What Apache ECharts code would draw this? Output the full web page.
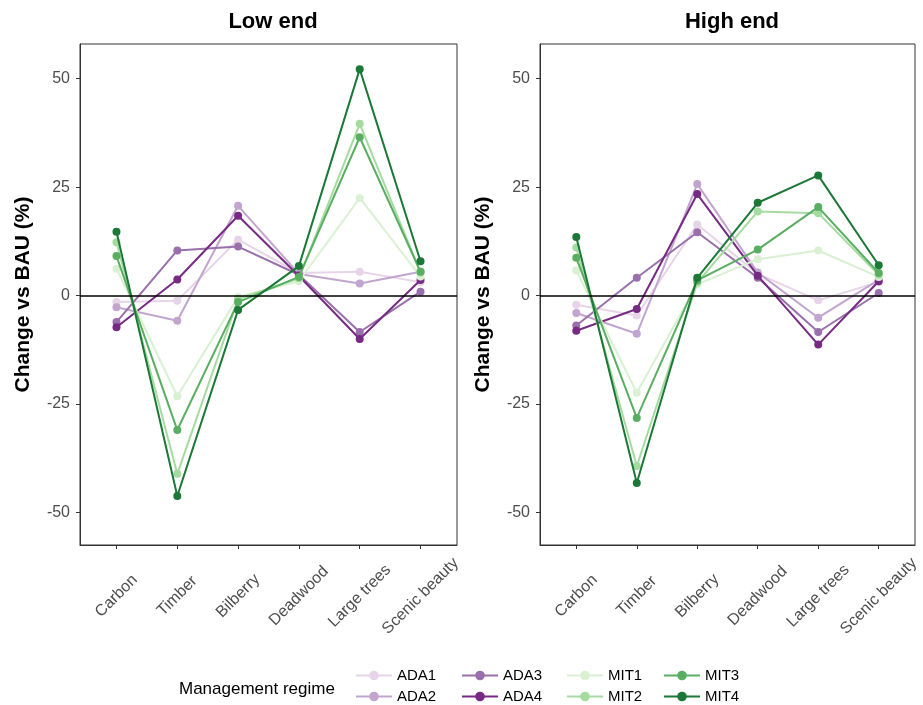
<!DOCTYPE html>
<html><head><meta charset="utf-8">
<script src="https://cdn.jsdelivr.net/npm/echarts@6/dist/echarts.min.js"></script>
<style>html,body{margin:0;padding:0;background:#fff}#c{width:923px;height:705px}</style>
</head><body><div id="c"></div>
<script>
const categories = ['Carbon','Timber','Bilberry','Deadwood','Large trees','Scenic beauty'];
const regimes = ['ADA1','ADA2','ADA3','ADA4','MIT1','MIT2','MIT3','MIT4'];
const colors = ['#e7d4e8','#c2a5cf','#9970ab','#762a83','#d9f0d3','#a6dba0','#5aae61','#1b7837'];
const yTicks = [-50,-25,0,25,50];
const panelTitles = ['Low end','High end'];

const lowADA1 = [-1.5, -1.2, 12.9, 5.2, 5.5, 3.1];
const lowADA2 = [-2.7, -5.8, 20.7, 5.0, 2.8, 5.5];
const lowADA3 = [-6.1, 10.4, 11.3, 4.8, -8.4, 0.9];
const lowADA4 = [-7.3, 3.7, 18.4, 4.5, -10.0, 3.6];
const lowMIT1 = [6.2, -23.2, -0.3, 3.3, 22.5, 4.4];
const lowMIT2 = [12.3, -41.1, -0.8, 4.0, 39.6, 5.3];
const lowMIT3 = [9.1, -31.0, -1.5, 4.3, 36.5, 5.5];
const lowMIT4 = [14.7, -46.2, -3.3, 6.8, 52.2, 7.9];

const highADA1 = [-2.1, -4.6, 16.4, 5.0, -1.1, 3.1];
const highADA2 = [-4.0, -8.8, 25.7, 5.3, -5.1, 3.6];
const highADA3 = [-6.9, 4.1, 14.6, 4.1, -8.4, 0.6];
const highADA4 = [-8.1, -3.1, 23.4, 4.6, -11.3, 3.3];
const highMIT1 = [5.8, -22.4, 2.6, 8.4, 10.4, 4.3];
const highMIT2 = [11.1, -39.3, 3.0, 19.4, 19.0, 4.8];
const highMIT3 = [8.7, -28.2, 3.5, 10.6, 20.4, 5.2];
const highMIT4 = [13.5, -43.2, 4.1, 21.4, 27.7, 7.0];

const lowData = [lowADA1, lowADA2, lowADA3, lowADA4, lowMIT1, lowMIT2, lowMIT3, lowMIT4];
const highData = [highADA1, highADA2, highADA3, highADA4, highMIT1, highMIT2, highMIT3, highMIT4];

const FONT = "'Liberation Sans', Arial, sans-serif";
const chart = echarts.init(document.getElementById('c'), null, {renderer:'canvas'});

const grids = [
  {left:80, right:466, top:44, bottom:160},
  {left:540, right:8, top:44, bottom:160}
];
const idx = categories.map((_, i) => i);

function xAxis(g){
  return {
    type:'value', gridIndex:g, min:-0.6, max:5.6,
    splitLine:{show:false},
    axisLine:{show:true, onZero:false, lineStyle:{color:'#333', width:1}},
    axisTick:{show:true, customValues:idx, length:4, lineStyle:{color:'#333', width:1}},
    axisLabel:{show:true, customValues:idx, rotate:45, align:'center', verticalAlign:'middle', margin:51,
      color:'#4d4d4d', fontSize:16, fontFamily:FONT,
      formatter: v => categories[Math.round(v)]}
  };
}
function yAxis(g){
  return {
    type:'value', gridIndex:g, min:-57.5, max:58,
    name:'Change vs BAU (%)', nameLocation:'middle', nameGap:46,
    nameTextStyle:{fontSize:21, fontWeight:'bold', color:'#000', fontFamily:FONT},
    splitLine:{show:false},
    axisLine:{show:true, onZero:false, lineStyle:{color:'#333', width:1}},
    axisTick:{show:true, customValues:yTicks, length:4, lineStyle:{color:'#333', width:1}},
    axisLabel:{show:true, customValues:yTicks, margin:10, color:'#4d4d4d', fontSize:16, fontFamily:FONT}
  };
}

const series = [];
[lowData, highData].forEach((panel, g) => {
  panel.forEach((vals, k) => {
    series.push({
      name: regimes[k], type:'line', xAxisIndex:g, yAxisIndex:g,
      data: vals.map((v, i) => [i, v]),
      symbol:'circle', symbolSize:8,
      lineStyle:{color:colors[k], width:2},
      itemStyle:{color:colors[k]},
      z: 3 + k,
      animation:false,
      markLine: k === 0 ? {
        silent:true, symbol:['none','none'], label:{show:false},
        lineStyle:{color:'#000', width:1.6, type:'solid'},
        data:[{yAxis:0}], z:20, animation:false
      } : undefined
    });
  });
});

const legends = [
  {names:['ADA1','ADA2'], left:355},
  {names:['ADA3','ADA4'], left:461},
  {names:['MIT1','MIT2'], left:566},
  {names:['MIT3','MIT4'], left:663}
].map(l => ({
  data:l.names, orient:'vertical', left:l.left, top:668, height:45, itemWidth:36, itemHeight:12, itemGap:6,
  padding:0,
  textStyle:{fontSize:15, color:'#000', fontFamily:FONT}, selectedMode:false
}));

chart.setOption({
  backgroundColor:'#fff',
  animation:false,
  title: [
    {text:panelTitles[0], left:268, top:6, textAlign:'center', textStyle:{fontSize:22, fontWeight:'bold', color:'#000', fontFamily:FONT}},
    {text:panelTitles[1], left:727, top:6, textAlign:'center', textStyle:{fontSize:22, fontWeight:'bold', color:'#000', fontFamily:FONT}},
    {text:'Management regime', left:174, top:676, textStyle:{fontSize:17, fontWeight:'normal', color:'#000', fontFamily:FONT}}
  ],
  grid: grids.map(g => Object.assign({show:true, borderColor:'#333', borderWidth:1, backgroundColor:'#fff'}, g)),
  xAxis:[xAxis(0), xAxis(1)],
  yAxis:[yAxis(0), yAxis(1)],
  legend: legends,
  series: series
});
</script></body></html>
